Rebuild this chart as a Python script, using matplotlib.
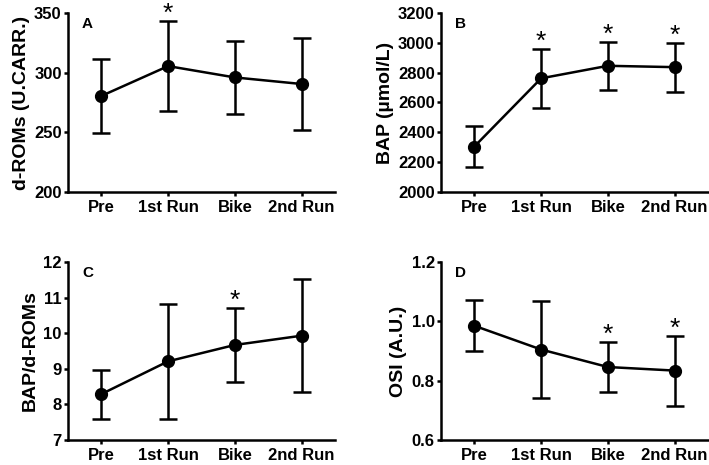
import matplotlib
matplotlib.use("Agg")
import matplotlib.pyplot as plt

categories = ["Pre", "1st Run", "Bike", "2nd Run"]

droms_mean = [280.5, 305.5, 296, 290.5]
droms_sd = [31, 37.5, 30.7, 38.4]
droms_sig = [False, True, False, False]

bap_mean = [2305, 2762, 2846, 2837]
bap_sd = [135, 200, 162, 165]
bap_sig = [False, True, True, True]

ratio_mean = [8.29, 9.21, 9.67, 9.93]
ratio_sd = [0.69, 1.62, 1.04, 1.59]
ratio_sig = [False, False, True, False]

osi_mean = [0.985, 0.905, 0.846, 0.834]
osi_sd = [0.086, 0.165, 0.084, 0.118]
osi_sig = [False, False, True, True]

plt.rcParams['font.family'] = ['Liberation Sans', 'DejaVu Sans']
plt.rcParams['font.weight'] = 'bold'

fig = plt.figure(figsize=(7.09, 4.65), dpi=100)

W, H = 709.0, 465.0
def rect(l, t, r, b):
    return [l / W, 1 - b / H, (r - l) / W, (b - t) / H]

panels = [
    dict(rect=rect(68, 13, 335, 192), mean=droms_mean, sd=droms_sd, sig=droms_sig,
         ylim=(200, 350), ticks=[200, 250, 300, 350], fmt="{:.0f}", label="d-ROMs (U.CARR.)", letter="A"),
    dict(rect=rect(441, 13, 708, 192), mean=bap_mean, sd=bap_sd, sig=bap_sig,
         ylim=(2000, 3200), ticks=list(range(2000, 3201, 200)), fmt="{:.0f}", label="BAP (µmol/L)", letter="B"),
    dict(rect=rect(68, 262, 335, 440), mean=ratio_mean, sd=ratio_sd, sig=ratio_sig,
         ylim=(7, 12), ticks=[7, 8, 9, 10, 11, 12], fmt="{:.0f}", label="BAP/d-ROMs", letter="C"),
    dict(rect=rect(441, 262, 708, 440), mean=osi_mean, sd=osi_sd, sig=osi_sig,
         ylim=(0.6, 1.2), ticks=[0.6, 0.8, 1.0, 1.2], fmt="{:.1f}", label="OSI (A.U.)", letter="D"),
]

x = list(range(len(categories)))
for p in panels:
    ax = fig.add_axes(p["rect"])
    ax.errorbar(x, p["mean"], yerr=p["sd"], color="black", marker="o", markersize=8.5,
                linewidth=1.8, elinewidth=1.8, capsize=6.5, capthick=1.8, clip_on=False, zorder=3)
    ax.set_xlim(-0.5, 3.5)
    ax.set_ylim(*p["ylim"])
    ax.set_yticks(p["ticks"])
    ax.set_yticklabels([p["fmt"].format(t) for t in p["ticks"]], fontsize=12, fontweight="bold")
    ax.set_xticks(x)
    ax.set_xticklabels(categories, fontsize=12, fontweight="bold")
    ax.set_ylabel(p["label"], fontsize=14, fontweight="bold", labelpad=3)
    for s in ["top", "right"]:
        ax.spines[s].set_visible(False)
    for s in ["left", "bottom"]:
        ax.spines[s].set_linewidth(1.8)
    ax.tick_params(axis="both", width=1.8, length=3, direction="out")
    ax.tick_params(axis="y", pad=1.5)
    ax.tick_params(axis="x", pad=3)
    ax.text(0.052, 0.975, p["letter"], transform=ax.transAxes, fontsize=11,
            fontweight="bold", va="top", ha="left")
    for xi, m, s, sg in zip(x, p["mean"], p["sd"], p["sig"]):
        if sg:
            ax.annotate("*", xy=(xi, m + s), xytext=(0, 0), textcoords="offset points",
                        fontsize=19, fontweight="normal", ha="center", va="baseline",
                        annotation_clip=False)

fig.savefig("out.png", dpi=100)
